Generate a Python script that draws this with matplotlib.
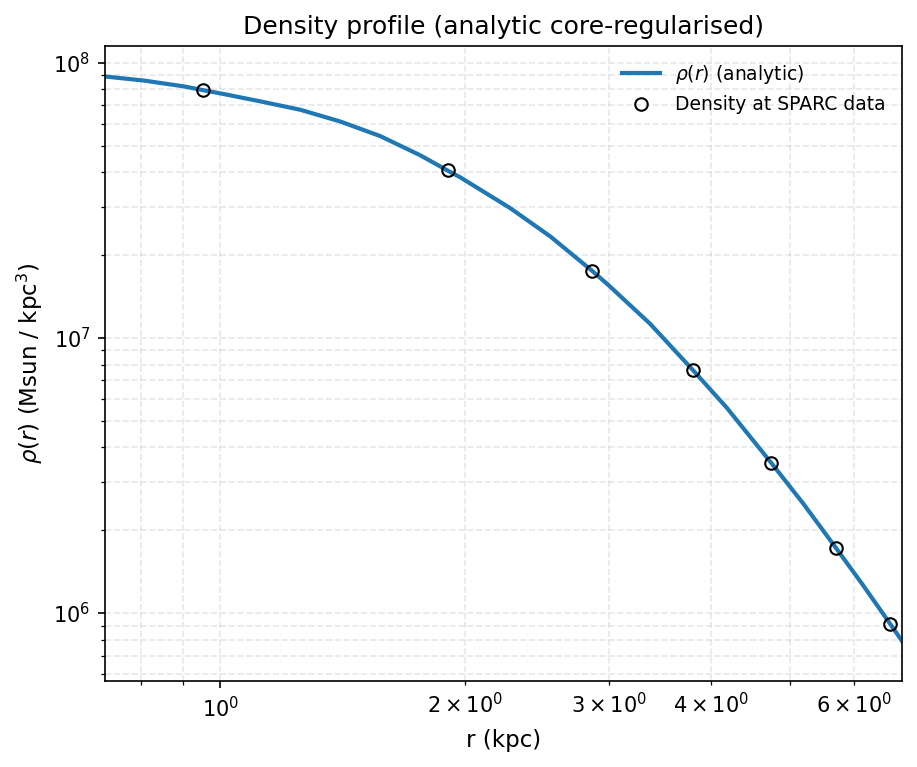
import matplotlib
matplotlib.use('Agg')
import matplotlib.pyplot as plt

# analytic curve
r_line = [0.7227, 0.8065, 0.9033, 0.9512, 1.0114, 1.1259, 1.2536, 1.4036, 1.5716,
          1.7597, 1.9011, 1.9704, 2.2695, 2.5409, 2.8577, 2.9947, 3.3702, 3.8019,
          4.1843, 4.7439, 5.1921, 5.6997, 6.1505, 6.6444, 6.87]
rho_line = [8.91e7, 8.61e7, 8.199e7, 7.956e7, 7.688e7, 7.214e7, 6.747e7, 6.116e7, 5.413e7,
            4.610e7, 4.058e7, 3.833e7, 2.962e7, 2.339e7, 1.757e7, 1.557e7, 1.125e7, 7.648e6,
            5.580e6, 3.520e6, 2.506e6, 1.723e6, 1.264e6, 9.12e5, 7.91e5]

# SPARC radii
r_data = [0.9512, 1.9011, 2.8577, 3.8019, 4.7439, 5.6997, 6.6444]
rho_data = [7.956e7, 4.058e7, 1.757e7, 7.648e6, 3.520e6, 1.723e6, 9.12e5]

fig, ax = plt.subplots(figsize=(917 / 150, 767 / 150), dpi=150)
fig.subplots_adjust(left=0.1145, right=0.9837, top=0.940, bottom=0.1121)

ax.loglog(r_line, rho_line, color='#1f77b4', lw=2, label=r'$\rho(r)$ (analytic)')
ax.loglog(r_data, rho_data, 'o', mfc='none', mec='black', ms=6, mew=1.0,
          label='Density at SPARC data')

ax.set_xlim(0.722, 6.87)
ax.set_ylim(5.66e5, 1.15e8)
ax.set_xlabel('r (kpc)', fontsize=11)
ax.set_ylabel(r'$\rho(r)$ (Msun / kpc$^3$)', fontsize=11)
ax.set_title('Density profile (analytic core-regularised)', fontsize=12)
ax.grid(True, which='both', ls='--', alpha=0.3)
ax.legend(loc='upper right', frameon=False, fontsize=9)

plt.savefig('out.png', dpi=150)
